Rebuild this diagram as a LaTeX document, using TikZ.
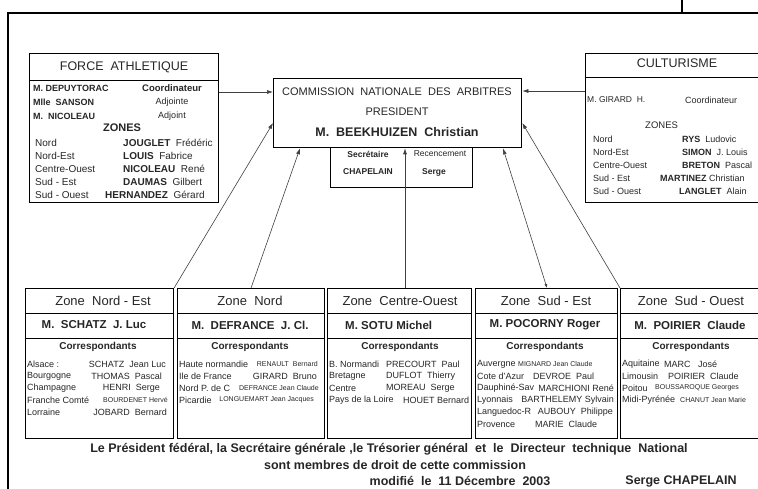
\documentclass[tikz,border=0pt]{standalone}
\usepackage{fontspec}
\setmainfont{Liberation Sans}
\usetikzlibrary{arrows.meta}
\begin{document}
\begin{tikzpicture}[x=1pt, y=-1pt, >={Latex[length=6pt,width=4pt]},
	box/.style = {draw, line width=1.1pt, inner sep=0, anchor=north west},
	rule/.style = {line width=0.8pt},
	txt/.style = {inner sep=0, text=black!85, font=\fontsize{9}{10}\selectfont},
	lft/.style = {txt, anchor=west},
	rgt/.style = {txt, anchor=east},
	row/.style = {lft, font=\fontsize{10}{11}\selectfont},
	mini/.style = {font=\fontsize{7}{8}\selectfont},
	head/.style = {txt, font=\fontsize{13}{15}\selectfont},
	chief/.style = {txt, font=\bfseries\fontsize{11.5}{13}\selectfont},
	corr/.style = {txt, font=\bfseries\fontsize{10}{12}\selectfont},
	foot/.style = {txt, font=\bfseries\fontsize{12.5}{14}\selectfont},
	link/.style = {->, line width=0.6pt, black!75}]
	\useasboundingbox (0,0) rectangle (758,489);
	\clip (0,0) rectangle (758,489);
	\draw[line width=1.8pt] (8,489) -- (8,13) -- (758,13);
	\draw[line width=1.5pt] (682,0) -- (682,13);

	\node[box, minimum width=189pt, minimum height=149pt] (fa) at (29,53) {};
	\node[box, line width=1.3pt, minimum width=248pt, minimum height=69pt] (cnda) at (273,78) {};
	\node[box, minimum width=142pt, minimum height=40pt] (sec) at (330,147) {};
	\node[box, minimum width=185pt, minimum height=149pt] (cult) at (585,53) {};
	\node[box, minimum width=148pt, minimum height=150pt] (zne) at (25,288) {};
	\node[box, minimum width=147pt, minimum height=150pt] (zn) at (177,288) {};
	\node[box, minimum width=144pt, minimum height=150pt] (zco) at (327,288) {};
	\node[box, minimum width=142pt, minimum height=150pt] (zse) at (475,288) {};
	\node[box, minimum width=142pt, minimum height=150pt] (zso) at (620,288) {};
	\draw[rule] (fa.west |- 0,80) -- (fa.east |- 0,80);
	\draw[rule] (cult.west |- 0,77) -- (cult.east |- 0,77);
	\foreach \z in {zne,zn,zco,zse,zso}
		\draw[rule] (\z.west |- 0,313) -- (\z.east |- 0,313) (\z.west |- 0,338) -- (\z.east |- 0,338);

	\node[txt, font=\fontsize{12.5}{14}\selectfont] (faT) at (124,67) {FORCE\ \ ATHLETIQUE};
	\node[lft, font=\bfseries\fontsize{9}{10}\selectfont] (fa1) at (33,88) {M. DEPUYTORAC};
	\node[txt, font=\bfseries\fontsize{9.5}{10}\selectfont] (fa1r) at (172,88) {Coordinateur};
	\node[lft, font=\bfseries\fontsize{9}{10}\selectfont] (fa2) at (33,102) {Mlle\ \ SANSON};
	\node[txt] (fa2r) at (172,102) {Adjointe};
	\node[lft, font=\bfseries\fontsize{9}{10}\selectfont] (fa3) at (33,116) {M.\ \ NICOLEAU};
	\node[txt] (fa3r) at (172,116) {Adjoint};
	\node[txt, font=\bfseries\fontsize{11}{12}\selectfont] (faZ) at (122,128) {ZONES};
	\node[row] (fa4) at (35,143) {Nord};
	\node[row] (fa4n) at (123,143) {\textbf{JOUGLET}\ \ Frédéric};
	\node[row] (fa5) at (35,156) {Nord-Est};
	\node[row] (fa5n) at (123,156) {\textbf{LOUIS}\ \ Fabrice};
	\node[row] (fa6) at (35,169) {Centre-Ouest};
	\node[row] (fa6n) at (123,169) {\textbf{NICOLEAU}\ \ René};
	\node[row] (fa7) at (35,182) {Sud - Est};
	\node[row] (fa7n) at (123,182) {\textbf{DAUMAS}\ \ Gilbert};
	\node[row] (fa8) at (35,195) {Sud - Ouest};
	\node[row] (fa8n) at (105,195) {\textbf{HERNANDEZ}\ \ Gérard};

	\node[txt, font=\fontsize{11}{13}\selectfont] (cn1) at (397,92) {COMMISSION\ \ NATIONALE\ \ DES\ \ ARBITRES};
	\node[txt, font=\fontsize{11}{13}\selectfont] (cn2) at (397,112) {PRESIDENT};
	\node[txt, font=\bfseries\fontsize{12.5}{14}\selectfont] (cn3) at (397,132) {M.\ \ BEEKHUIZEN\ \ Christian};
	\node[txt, font=\bfseries\fontsize{8.5}{10}\selectfont] (sc1) at (368,154) {Secrétaire};
	\node[txt, font=\fontsize{8.5}{10}\selectfont] (sc2) at (440,154) {Recencement};
	\node[txt, font=\bfseries\fontsize{8.5}{10}\selectfont] (sc3) at (368,172) {CHAPELAIN};
	\node[txt, font=\bfseries\fontsize{8.5}{10}\selectfont] (sc4) at (434,172) {Serge};

	\node[txt, font=\fontsize{12.5}{14}\selectfont] (cuT) at (677,63) {CULTURISME};
	\node[lft, font=\fontsize{8.5}{10}\selectfont] (cu1) at (587,100) {M. GIRARD\ \ H.};
	\node[lft, font=\fontsize{9}{10}\selectfont] (cu1r) at (685,100) {Coordinateur};
	\node[lft, font=\fontsize{9.5}{11}\selectfont] (cuZ) at (645,125) {ZONES};
	\node[lft] (cu2) at (593,139) {Nord};
	\node[lft] (cu2n) at (682,139) {\textbf{RYS}\ \ Ludovic};
	\node[lft] (cu3) at (593,152) {Nord-Est};
	\node[lft] (cu3n) at (682,152) {\textbf{SIMON}\ \ J. Louis};
	\node[lft] (cu4) at (593,165) {Centre-Ouest};
	\node[lft] (cu4n) at (682,165) {\textbf{BRETON}\ \ Pascal};
	\node[lft] (cu5) at (593,178) {Sud - Est};
	\node[lft] (cu5n) at (660,178) {\textbf{MARTINEZ}\ Christian};
	\node[lft] (cu6) at (593,191) {Sud - Ouest};
	\node[lft] (cu6n) at (679,191) {\textbf{LANGLET}\ \ Alain};

	\node[head] (zneT) at (103,301) {Zone\ \ Nord - Est};
	\node[chief] (zneC) at (94,325) {M.\ \ SCHATZ\ \ J. Luc};
	\node[corr] (zneK) at (98,347) {Correspondants};
	\node[lft] (zne1) at (27,364) {Alsace :};
	\node[rgt] (zne1n) at (166,364) {SCHATZ\ \ Jean Luc};
	\node[lft] (zne2) at (27,376) {Bourgogne};
	\node[rgt] (zne2n) at (162,376) {THOMAS\ \ Pascal};
	\node[lft] (zne3) at (27,388) {Champagne};
	\node[rgt] (zne3n) at (160,388) {HENRI\ \ Serge};
	\node[lft] (zne4) at (27,400) {Franche Comté};
	\node[rgt, mini] (zne4n) at (168,400) {BOURDENET Hervé};
	\node[lft] (zne5) at (27,412) {Lorraine};
	\node[rgt] (zne5n) at (167,412) {JOBARD\ \ Bernard};

	\node[head] (znT) at (250,301) {Zone\ \ Nord};
	\node[chief] (znC) at (250,325) {M.\ \ DEFRANCE\ \ J. Cl.};
	\node[corr] (znK) at (250,347) {Correspondants};
	\node[lft] (zn1) at (179,364) {Haute normandie};
	\node[rgt, mini] (zn1n) at (318,364) {RENAULT\ \ Bernard};
	\node[lft] (zn2) at (179,376) {Ile de France};
	\node[rgt] (zn2n) at (317,376) {GIRARD\ \ Bruno};
	\node[lft] (zn3) at (179,388) {Nord P. de C};
	\node[rgt, mini] (zn3n) at (319,388) {DEFRANCE Jean Claude};
	\node[lft] (zn4) at (179,400) {Picardie};
	\node[rgt, mini] (zn4n) at (314,400) {LONGUEMART Jean Jacques};

	\node[head] (zcoT) at (400,301) {Zone\ \ Centre-Ouest};
	\node[chief, anchor=west] (zcoC) at (345,325) {M. SOTU Michel};
	\node[corr] (zcoK) at (400,347) {Correspondants};
	\node[lft] (zco1) at (329,364) {B. Normandi};
	\node[lft] (zco1n) at (386,364) {PRECOURT\ \ Paul};
	\node[lft] (zco2) at (329,376) {Bretagne};
	\node[lft] (zco2n) at (386,376) {DUFLOT\ \ Thierry};
	\node[lft] (zco3) at (329,388) {Centre};
	\node[lft] (zco3n) at (386,388) {MOREAU\ \ Serge};
	\node[lft] (zco4) at (329,400) {Pays de la Loire};
	\node[lft] (zco4n) at (403,400) {HOUET Bernard};

	\node[head] (zseT) at (546,301) {Zone\ \ Sud - Est};
	\node[chief] (zseC) at (545,325) {M. POCORNY Roger};
	\node[corr] (zseK) at (545,347) {Correspondants};
	\node[lft] (zse1) at (477,364) {Auvergne};
	\node[lft, mini] (zse1n) at (518,364) {MIGNARD Jean Claude};
	\node[lft] (zse2) at (477,376) {Cote d'Azur};
	\node[lft] (zse2n) at (533,376) {DEVROE\ \ Paul};
	\node[lft] (zse3) at (477,388) {Dauphiné-Sav};
	\node[rgt] (zse3n) at (614,388) {MARCHIONI René};
	\node[lft] (zse4) at (477,400) {Lyonnais};
	\node[rgt] (zse4n) at (614,400) {BARTHELEMY Sylvain};
	\node[lft] (zse5) at (477,412) {Languedoc-R};
	\node[rgt] (zse5n) at (613,412) {AUBOUY\ \ Philippe};
	\node[lft] (zse6) at (477,424) {Provence};
	\node[lft] (zse6n) at (535,424) {MARIE\ \ Claude};

	\node[head] (zsoT) at (691,301) {Zone\ \ Sud - Ouest};
	\node[chief] (zsoC) at (690,325) {M.\ \ POIRIER\ \ Claude};
	\node[corr] (zsoK) at (691,347) {Correspondants};
	\node[lft] (zso1) at (622,364) {Aquitaine};
	\node[lft] (zso1n) at (664,364) {MARC\ \ \ José};
	\node[lft] (zso2) at (622,376) {Limousin};
	\node[lft] (zso2n) at (668,376) {POIRIER\ \ Claude};
	\node[lft] (zso3) at (622,388) {Poitou};
	\node[lft, mini] (zso3n) at (655,388) {BOUSSAROQUE Georges};
	\node[lft] (zso4) at (622,400) {Midi-Pyrénée};
	\node[lft, mini] (zso4n) at (680,400) {CHANUT Jean Marie};

	\node[foot] (ft1) at (389,449) {Le Président fédéral, la Secrétaire générale ,le Trésorier général\ \ et\ \ le\ \ Directeur\ \ technique\ \ National};
	\node[foot] (ft2) at (395,465) {sont membres de droit de cette commission};
	\node[foot] (ft3) at (460,481) {modifié\ \ le\ \ 11 Décembre\ \ 2003};
	\node[foot] (ft4) at (681,481) {Serge CHAPELAIN};

	\draw[link] (fa.east |- 0,92) -- (cnda.west |- 0,92);
	\draw[link] (cult.west |- 0,91) -- (cnda.east |- 0,91);
	\draw[link] (zne.north east) -- (cnda.west |- 0,123);
	\draw[link] (zn.north) -- (cnda.south -| 300,0);
	\draw[link] (zco.north -| 405,0) -- (cnda.south -| 405,0);
	\draw[link, {Latex[length=4pt,width=3pt]}->] (zse.north -| 547,0) -- (cnda.south -| 503,0);
	\draw[link] (zso.north west) -- (cnda.east |- 0,123);
\end{tikzpicture}
\end{document}
